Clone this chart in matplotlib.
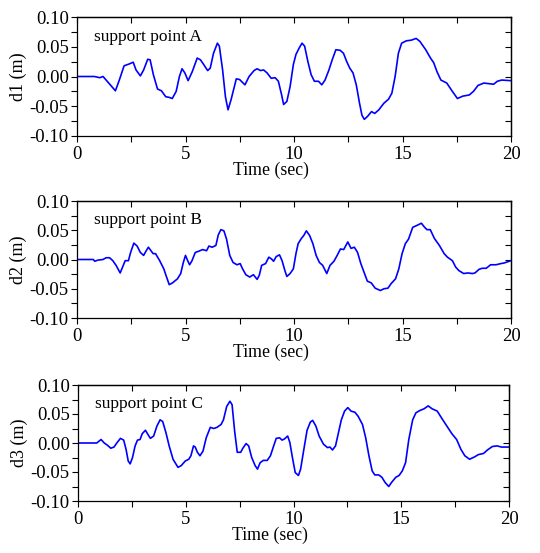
import matplotlib
matplotlib.use("Agg")
import matplotlib.pyplot as plt
from matplotlib.ticker import MultipleLocator, FormatStrFormatter

plt.rcParams['font.family'] = ['Liberation Serif', 'DejaVu Serif']

# support point A
tA = [0, 0.8, 1.05, 1.2, 1.77, 1.95, 2.17, 2.4, 2.59, 2.72, 2.92, 3.07, 3.26, 3.37, 3.52,
      3.71, 3.89, 4.09, 4.24, 4.39, 4.57, 4.72, 4.84, 4.97, 5.12, 5.31, 5.54, 5.69, 5.84,
      6.02, 6.14, 6.29, 6.47, 6.56, 6.71, 6.84, 6.96, 7.1, 7.34, 7.49, 7.74, 7.93, 8.16,
      8.3, 8.46, 8.6, 8.76, 8.95, 9.13, 9.28, 9.43, 9.52, 9.67, 9.82, 9.97, 10.09, 10.24,
      10.37, 10.49, 10.64, 10.79, 10.94, 11.13, 11.28, 11.43, 11.61, 11.76, 11.93, 12.13,
      12.28, 12.43, 12.57, 12.72, 12.87, 13.02, 13.13, 13.24, 13.39, 13.57, 13.72, 13.91,
      14.14, 14.36, 14.51, 14.66, 14.81, 14.96, 15.18, 15.4, 15.63, 15.8, 16.07, 16.29,
      16.44, 16.59, 16.77, 17.04, 17.26, 17.53, 17.78, 18.08, 18.27, 18.48, 18.75, 18.97,
      19.2, 19.37, 19.57, 20]
dA = [0, 0, -0.002, 0, -0.024, -0.006, 0.018, 0.021, 0.024, 0.011, 0.001, 0.011, 0.029,
      0.028, 0.003, -0.021, -0.024, -0.034, -0.035, -0.037, -0.025, 0, 0.013, 0.006,
      -0.007, 0.008, 0.031, 0.028, 0.020, 0.010, 0.014, 0.039, 0.056, 0.051, 0.011,
      -0.034, -0.056, -0.039, -0.004, -0.005, -0.014, 0, 0.010, 0.013, 0.010, 0.011,
      0.006, -0.003, -0.002, -0.008, -0.031, -0.047, -0.042, -0.017, 0.020, 0.037, 0.048,
      0.056, 0.051, 0.025, 0.003, -0.008, -0.008, -0.014, -0.006, 0.011, 0.028, 0.045,
      0.044, 0.039, 0.025, 0.014, 0.006, -0.014, -0.045, -0.065, -0.072, -0.067, -0.059,
      -0.062, -0.056, -0.045, -0.038, -0.028, 0, 0.039, 0.056, 0.060, 0.061, 0.064, 0.059,
      0.045, 0.031, 0.023, 0.008, -0.006, -0.011, -0.023, -0.037, -0.033, -0.031, -0.025,
      -0.015, -0.011, -0.012, -0.013, -0.008, -0.006, -0.007]

# support point B
tB = [0, 0.75, 0.82, 0.97, 1.2, 1.34, 1.5, 1.65, 1.8, 1.99, 2.1, 2.22, 2.37, 2.47, 2.62,
      2.77, 2.92, 3.07, 3.19, 3.29, 3.41, 3.51, 3.62, 3.81, 4.0, 4.1, 4.25, 4.4, 4.63,
      4.78, 4.9, 5.0, 5.1, 5.19, 5.3, 5.45, 5.6, 5.79, 5.97, 6.08, 6.23, 6.4, 6.51, 6.63,
      6.77, 6.89, 7.04, 7.19, 7.37, 7.52, 7.63, 7.78, 7.96, 8.13, 8.3, 8.4, 8.51, 8.69,
      8.84, 8.96, 9.06, 9.18, 9.33, 9.45, 9.58, 9.67, 9.82, 9.97, 10.09, 10.19, 10.34,
      10.45, 10.57, 10.72, 10.87, 11.02, 11.17, 11.32, 11.51, 11.66, 11.84, 11.99, 12.14,
      12.29, 12.48, 12.63, 12.78, 12.93, 13.08, 13.23, 13.38, 13.56, 13.74, 13.98, 14.15,
      14.33, 14.48, 14.68, 14.83, 14.98, 15.13, 15.28, 15.47, 15.65, 15.87, 16.02, 16.13,
      16.28, 16.47, 16.7, 16.92, 17.07, 17.3, 17.45, 17.6, 17.82, 18.01, 18.22, 18.34,
      18.52, 18.67, 18.86, 19.06, 19.31, 19.53, 19.68, 20]
dB = [0, 0, -0.003, -0.001, 0, 0.003, 0.003, -0.002, -0.010, -0.023, -0.013, -0.002,
      -0.002, 0.012, 0.028, 0.023, 0.012, 0.007, 0.015, 0.021, 0.015, 0.010, 0.010,
      -0.002, -0.016, -0.027, -0.043, -0.040, -0.033, -0.024, -0.005, 0.007, -0.002,
      -0.009, -0.002, 0.012, 0.014, 0.017, 0.015, 0.023, 0.021, 0.024, 0.042, 0.051,
      0.049, 0.035, 0.007, -0.005, -0.009, -0.007, -0.016, -0.026, -0.030, -0.026, -0.034,
      -0.027, -0.010, -0.007, 0.004, 0.001, -0.003, 0.005, 0.008, -0.002, -0.019, -0.029,
      -0.024, -0.016, 0.010, 0.027, 0.036, 0.041, 0.049, 0.041, 0.027, 0.007, -0.005,
      -0.010, -0.024, -0.010, -0.003, 0.007, 0.018, 0.017, 0.030, 0.019, 0.021, 0.012,
      -0.007, -0.022, -0.037, -0.040, -0.049, -0.053, -0.050, -0.049, -0.041, -0.033,
      -0.016, 0.010, 0.027, 0.035, 0.055, 0.058, 0.062, 0.055, 0.051, 0.051, 0.036, 0.024,
      0.010, 0.004, -0.002, -0.013, -0.019, -0.024, -0.023, -0.024, -0.023, -0.017,
      -0.015, -0.015, -0.009, -0.009, -0.007, -0.006, -0.002]

# support point C
tC = [0, 0.87, 1.07, 1.22, 1.37, 1.52, 1.67, 1.82, 1.97, 2.12, 2.23, 2.33, 2.42, 2.53,
      2.65, 2.76, 2.88, 2.98, 3.13, 3.24, 3.36, 3.51, 3.66, 3.81, 3.93, 4.08, 4.23, 4.41,
      4.64, 4.79, 4.98, 5.14, 5.24, 5.36, 5.44, 5.54, 5.66, 5.8, 5.95, 6.14, 6.3, 6.45,
      6.64, 6.75, 6.9, 7.05, 7.15, 7.27, 7.39, 7.55, 7.65, 7.8, 7.92, 8.06, 8.22, 8.33,
      8.45, 8.6, 8.78, 8.93, 9.08, 9.2, 9.35, 9.47, 9.58, 9.73, 9.83, 9.95, 10.08, 10.23,
      10.33, 10.48, 10.63, 10.78, 10.89, 11.04, 11.19, 11.39, 11.58, 11.69, 11.81, 11.95,
      12.07, 12.22, 12.37, 12.52, 12.67, 12.85, 13.0, 13.2, 13.35, 13.5, 13.65, 13.77,
      13.95, 14.1, 14.25, 14.42, 14.55, 14.75, 14.9, 15.05, 15.2, 15.35, 15.53, 15.68,
      15.86, 16.06, 16.25, 16.43, 16.67, 16.89, 17.12, 17.35, 17.57, 17.77, 17.95, 18.17,
      18.4, 18.58, 18.82, 19.0, 19.23, 19.45, 19.65, 20]
dC = [0, 0, 0.006, 0, -0.004, -0.009, -0.007, 0.001, 0.008, 0.005, -0.011, -0.031,
      -0.036, -0.025, -0.005, 0.005, 0.006, 0.016, 0.022, 0.015, 0.008, 0.012, 0.029,
      0.040, 0.037, 0.018, -0.005, -0.028, -0.042, -0.039, -0.031, -0.028, -0.022, -0.005,
      -0.007, -0.016, -0.022, -0.014, 0.009, 0.027, 0.025, 0.027, 0.032, 0.040, 0.063,
      0.072, 0.066, 0.020, -0.016, -0.016, -0.009, -0.001, -0.005, -0.025, -0.039,
      -0.045, -0.034, -0.030, -0.030, -0.022, -0.005, 0.008, 0.009, 0.005, 0.007, 0.012,
      0.001, -0.025, -0.051, -0.056, -0.045, -0.011, 0.022, 0.036, 0.039, 0.029, 0.012,
      -0.002, -0.008, -0.007, -0.012, -0.005, 0.015, 0.040, 0.055, 0.061, 0.055, 0.053,
      0.046, 0.032, 0.009, -0.022, -0.048, -0.055, -0.055, -0.059, -0.068, -0.075, -0.068,
      -0.059, -0.056, -0.048, -0.034, 0.006, 0.040, 0.052, 0.056, 0.059, 0.064, 0.059,
      0.055, 0.042, 0.029, 0.016, 0.006, -0.011, -0.022, -0.028, -0.024, -0.020, -0.018,
      -0.012, -0.006, -0.005, -0.007, -0.007]

series = [(tA, dA, 'd1 (m)', 'support point A'),
          (tB, dB, 'd2 (m)', 'support point B'),
          (tC, dC, 'd3 (m)', 'support point C')]

W, H = 540, 553
boxes = [(77, 17, 511, 136), (77, 201, 511, 318), (78, 385, 509, 501)]

fig = plt.figure(figsize=(W / 100, H / 100), dpi=100)

for (t, d, ylab, label), (x0, y0, x1, y1) in zip(series, boxes):
    ax = fig.add_axes([x0 / W, 1 - y1 / H, (x1 - x0) / W, (y1 - y0) / H])
    ax.plot(t, d, color='#0000ff', lw=1.2)
    ax.set_xlim(0, 20)
    ax.set_ylim(-0.10, 0.10)
    ax.xaxis.set_major_locator(MultipleLocator(5))
    ax.xaxis.set_minor_locator(MultipleLocator(2.5))
    ax.yaxis.set_major_locator(MultipleLocator(0.05))
    ax.yaxis.set_minor_locator(MultipleLocator(0.025))
    ax.yaxis.set_major_formatter(FormatStrFormatter('%.2f'))
    ax.tick_params(which='both', direction='out', length=4, width=0.8,
                   labelsize=13.5, pad=2)
    ax.tick_params(axis='x', pad=3)
    for s in ax.spines.values():
        s.set_linewidth(0.9)
    ax.set_ylabel(ylab, fontsize=13, labelpad=2)
    # the x label sits a little left of centre in the original
    ax.set_xlabel('Time (sec)', fontsize=12.8, labelpad=3)
    ax.xaxis.set_label_coords(0.446, -0.22)
    ax.text(0.04, 0.80, label, transform=ax.transAxes, fontsize=12.5)

    # inward ticks on the right and top edges
    right = ax.secondary_yaxis('right')
    right.yaxis.set_major_locator(MultipleLocator(0.05))
    right.yaxis.set_minor_locator(MultipleLocator(0.025))
    right.tick_params(which='both', direction='in', length=4, width=0.8, labelright=False)
    top = ax.secondary_xaxis('top')
    top.xaxis.set_major_locator(MultipleLocator(5))
    top.xaxis.set_minor_locator(MultipleLocator(2.5))
    top.tick_params(which='both', direction='in', length=4, width=0.8, labeltop=False)
    for sec in (right, top):
        for s in sec.spines.values():
            s.set_linewidth(0.9)

fig.savefig('out.png', dpi=100)
